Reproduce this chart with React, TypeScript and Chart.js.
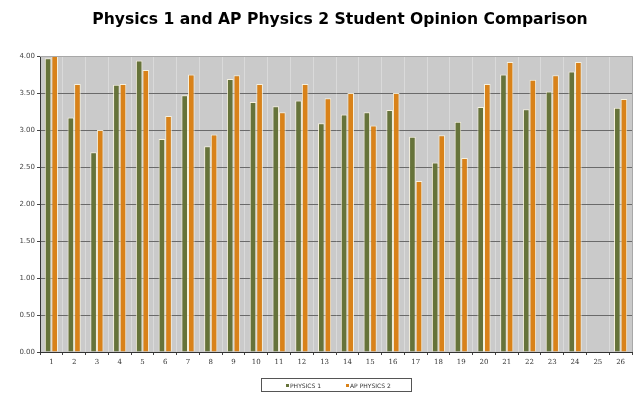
import React, { useEffect, useRef } from "react";
import { Chart, registerables } from "chart.js";

Chart.register(...registerables);

const TITLE = "Physics 1 and AP Physics 2 Student Opinion Comparison";
const categories = ["1","2","3","4","5","6","7","8","9","10","11","12","13","14","15","16","17","18","19","20","21","22","23","24","25","26"];
const physics1 = [3.97,3.17,2.70,3.61,3.94,2.88,3.47,2.78,3.69,3.38,3.32,3.40,3.09,3.21,3.24,3.27,2.91,2.56,3.11,3.31,3.75,3.28,3.52,3.79,null,3.30];
const apPhysics2 = [4.00,3.62,3.00,3.62,3.81,3.19,3.75,2.94,3.74,3.62,3.24,3.62,3.43,3.50,3.06,3.50,2.31,2.93,2.62,3.62,3.92,3.68,3.74,3.92,null,3.42];
const seriesNames = ["PHYSICS 1", "AP PHYSICS 2"];
const seriesColors = ["#66733a", "#d98219"];

const frame = {
  id: "frame",
  beforeDraw(chart: any) {
    const { ctx, chartArea: a } = chart;
    ctx.save();
    ctx.fillStyle = "#cacaca";
    ctx.fillRect(a.left, a.top, a.right - a.left, a.bottom - a.top);
    ctx.restore();
  },
  afterDraw(chart: any) {
    const { ctx, chartArea: a } = chart;
    ctx.save();
    ctx.strokeStyle = "#a8a8a8";
    ctx.lineWidth = 1;
    ctx.beginPath();
    ctx.moveTo(a.left, a.top + 0.5);
    ctx.lineTo(a.right + 0.5, a.top + 0.5);
    ctx.lineTo(a.right + 0.5, a.bottom);
    ctx.stroke();
    ctx.fillStyle = "#000";
    ctx.font = "bold 15.6px 'DejaVu Sans', Verdana, sans-serif";
    ctx.textAlign = "center";
    ctx.textBaseline = "alphabetic";
    ctx.fillText(TITLE, 340, 24);
    ctx.restore();
  },
};

export default function App() {
  const ref = useRef<HTMLCanvasElement>(null);
  useEffect(() => {
    document.body.style.margin = "0";
    const chart = new Chart(ref.current!, {
      type: "bar",
      data: {
        labels: categories,
        datasets: [
          { label: seriesNames[0], data: physics1 as any, backgroundColor: seriesColors[0], borderColor: "rgba(255,248,225,0.85)", borderWidth: 1, categoryPercentage: 0.58, barPercentage: 1 },
          { label: seriesNames[1], data: apPhysics2 as any, backgroundColor: seriesColors[1], borderColor: "rgba(255,248,225,0.85)", borderWidth: 1, categoryPercentage: 0.58, barPercentage: 1 },
        ],
      },
      options: {
        animation: false,
        responsive: false,
        layout: { padding: { left: 0, right: 8, top: 56, bottom: 28 } },
        plugins: { legend: { display: false }, title: { display: false }, tooltip: { enabled: false } },
        scales: {
          x: {
            offset: true,
            grid: { offset: true, color: "#dadada", lineWidth: 1, tickColor: "#444", tickLength: 3 },
            border: { color: "#333" },
            ticks: { color: "#333", font: { size: 7, family: "'DejaVu Serif', serif" }, padding: 3, maxRotation: 0, autoSkip: false },
            afterFit(s: any) { s.height = 16; },
          },
          y: {
            min: 0,
            max: 4,
            grid: { color: "#6a6a6a", lineWidth: 1, tickColor: "#444", tickLength: 3 },
            border: { color: "#333" },
            ticks: { stepSize: 0.5, color: "#444", font: { size: 7, family: "'DejaVu Sans', sans-serif" }, padding: 2, callback: (v: any) => Number(v).toFixed(2) },
            afterFit(s: any) { s.width = 40; },
          },
        },
      },
      plugins: [frame],
    });
    return () => chart.destroy();
  }, []);
  return (
    <div style={{ position: "relative", width: 640, height: 396 }}>
      <canvas ref={ref} width={640} height={396} />
      <div style={{ position: "absolute", left: 261, top: 378, width: 151, height: 14, border: "1px solid #555", boxSizing: "border-box", fontFamily: "'DejaVu Sans', sans-serif", fontSize: 6, color: "#333" }}>
        {seriesNames.map((n, i) => (
          <span key={n} style={{ position: "absolute", top: 3, left: i === 0 ? 24 : 84, display: "flex", alignItems: "center", lineHeight: "7px" }}>
            <span style={{ display: "inline-block", width: 3, height: 3, background: seriesColors[i], marginRight: 1 }} />
            {n}
          </span>
        ))}
      </div>
    </div>
  );
}
